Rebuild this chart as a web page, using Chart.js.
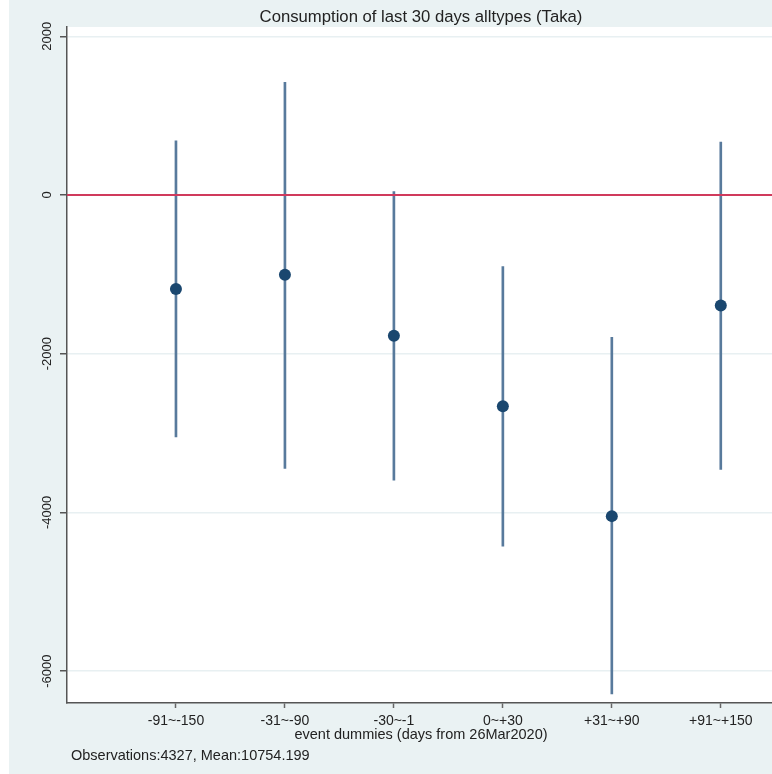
<!DOCTYPE html>
<html>
<head>
<meta charset="utf-8">
<script src="https://cdn.jsdelivr.net/npm/chart.js@4"></script>
<style>
  html, body { margin: 0; padding: 0; background: #ffffff; overflow: hidden; }
  #wrap { width: 772px; height: 774px; position: relative; }
  canvas { display: block; }
</style>
</head>
<body>
<div id="wrap"><canvas id="grafico" width="772" height="774"></canvas></div>
<script>
// event windows around 26Mar2020
const categories = ['-91~-150', '-31~-90', '-30~-1', '0~+30', '+31~+90', '+91~+150'];
// point estimates and 95% confidence bounds
const estimates = [-1186, -1006, -1774, -2663, -4047, -1392];
const ciLow = [-3048, -3447, -3594, -4427, -6289, -3459];
const ciHigh = [683, 1421, 42, -902, -1795, 667];
const yTicks = [-6000, -4000, -2000, 0, 2000];
const refLine = 0;

const titulo = 'Consumption of last 30 days alltypes (Taka)';
const eixoX = 'event dummies (days from 26Mar2020)';
const nota = 'Observations:4327, Mean:10754.199';

const FONTE = '"Liberation Sans", Arial, sans-serif';
const X_MAX = 6.47;

// fundo cinza-azulado e área do gráfico branca
const fundo = {
  id: 'fundo',
  beforeDraw(chart) {
    const { ctx, chartArea: a } = chart;
    ctx.save();
    ctx.fillStyle = '#ffffff';
    ctx.fillRect(0, 0, chart.width, chart.height);
    ctx.fillStyle = '#eaf2f3';
    ctx.fillRect(9, 0, chart.width - 9, chart.height);
    ctx.fillStyle = '#ffffff';
    ctx.fillRect(a.left, a.top, a.right - a.left, a.bottom - a.top);
    ctx.restore();
  }
};

// textos: título, rótulos dos eixos, título do eixo x e nota
const textos = {
  id: 'textos',
  afterDraw(chart) {
    const { ctx, scales } = chart;
    ctx.save();
    ctx.fillStyle = '#222222';
    ctx.textBaseline = 'middle';
    ctx.textAlign = 'center';

    ctx.font = '16.7px ' + FONTE;
    ctx.fillText(titulo, 421, 17);

    // rótulos do eixo y na vertical
    ctx.font = '13px ' + FONTE;
    yTicks.forEach(v => {
      const y = scales.y.getPixelForValue(v);
      ctx.save();
      ctx.translate(47, y);
      ctx.rotate(-Math.PI / 2);
      ctx.fillText(String(v), 0, 0);
      ctx.restore();
    });

    ctx.font = '14px ' + FONTE;
    categories.forEach((c, i) => {
      ctx.fillText(c, scales.x.getPixelForValue(i + 1), 721);
    });

    ctx.font = '14.5px ' + FONTE;
    ctx.fillText(eixoX, 421, 735);

    ctx.textAlign = 'left';
    ctx.fillText(nota, 71, 756);
    ctx.restore();
  }
};

new Chart(document.getElementById('grafico'), {
  data: {
    datasets: [
      {
        type: 'scatter',
        data: estimates.map((v, i) => ({ x: i + 1, y: v })),
        pointRadius: 6,
        pointHoverRadius: 6,
        pointBackgroundColor: '#1a476f',
        pointBorderWidth: 0,
        order: 0
      },
      {
        type: 'line',
        data: [{ x: 0, y: refLine }, { x: X_MAX, y: refLine }],
        borderColor: '#d03a5c',
        borderWidth: 2,
        pointRadius: 0,
        order: 1
      },
      {
        type: 'bar',
        data: categories.map((c, i) => ({ x: i + 1, y: [ciLow[i], ciHigh[i]] })),
        backgroundColor: '#587a9c',
        barThickness: 2,
        order: 2
      }
    ]
  },
  options: {
    responsive: false,
    animation: false,
    events: [],
    layout: { autoPadding: false, padding: { top: 27, left: 0, right: 0, bottom: 0 } },
    plugins: {
      legend: { display: false },
      tooltip: { enabled: false }
    },
    scales: {
      x: {
        type: 'linear',
        min: 0,
        max: X_MAX,
        offset: false,
        afterBuildTicks: s => { s.ticks = categories.map((c, i) => ({ value: i + 1 })); },
        afterFit: s => { s.height = 71; s.paddingLeft = 0; s.paddingRight = 0; },
        grid: { offset: false, drawOnChartArea: false, tickColor: '#666666', tickLength: 5, tickWidth: 1.5 },
        border: { color: '#555555', width: 1.5 },
        ticks: { display: false }
      },
      y: {
        type: 'linear',
        min: -6402,
        max: 2117,
        afterBuildTicks: s => { s.ticks = yTicks.map(v => ({ value: v })); },
        afterFit: s => { s.width = 67; s.paddingTop = 0; s.paddingBottom = 0; },
        grid: { color: '#e8f0f2', lineWidth: 1.5, tickColor: '#555555', tickLength: 7, tickWidth: 1.5 },
        border: { color: '#555555', width: 1.5 },
        ticks: { display: false }
      }
    }
  },
  plugins: [fundo, textos]
});
</script>
</body>
</html>
